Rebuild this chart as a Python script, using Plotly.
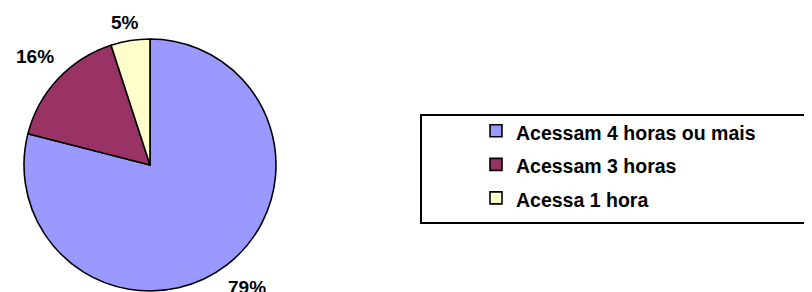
import math
import plotly.graph_objects as go

labels = ["Acessam 4 horas ou mais", "Acessam 3 horas", "Acessa 1 hora"]
values = [79, 16, 5]
colors = ["#9999FF", "#993366", "#FFFFCC"]

# the page body has an 8px margin, so the figure is sized to the remaining view
OFF = 8
W, H = 812 - OFF, 292 - OFF

def X(px):
    return (px - OFF) / W

def Y(py):
    return 1 - (py - OFF) / H

# pie domain in window pixels
px0, px1, py0, py1 = 24, 276, 39, 291
cx, cy = (px0 + px1) / 2, (py0 + py1) / 2
R = min(px1 - px0, py1 - py0) / 2

FONT = "Liberation Sans, Arial, sans-serif"

fig = go.Figure()
fig.add_trace(go.Pie(
    labels=[f'<b><span style="font-size:19.5px;font-weight:bold">{l}</span></b>' for l in labels],
    values=values,
    sort=False,
    direction="clockwise",
    rotation=0,
    textinfo="none",
    hoverinfo="label+percent",
    marker=dict(colors=colors, line=dict(color="black", width=1.6)),
    domain=dict(x=[X(px0), X(px1)], y=[Y(py1), Y(py0)]),
))

# percentage labels outside, at the slice mid-angles, kept inside the top edge
total = sum(values)
cum = 0
annotations = []
for v in values:
    mid = (cum + v / 2) / total * 2 * math.pi
    cum += v
    dx, dy = math.sin(mid), math.cos(mid)
    txt = f"{round(v / total * 100)}%"
    dist = R + 32
    lx = cx + dist * dx
    ly = max(cy - dist * dy, 22)
    ly = min(ly, 287)
    annotations.append(dict(
        x=X(lx), y=Y(ly), xref="paper", yref="paper",
        text=f"<b>{txt}</b>", showarrow=False,
        font=dict(family=FONT, size=19, color="black"),
        xanchor="center", yanchor="middle",
    ))

fig.update_layout(
    width=W, height=H,
    margin=dict(l=0, r=0, t=0, b=0),
    paper_bgcolor="white", plot_bgcolor="white",
    font=dict(family=FONT, color="black"),
    showlegend=True,
    legend=dict(
        x=X(476), y=Y(109), xanchor="left", yanchor="top",
        font=dict(family=FONT, size=23.5, color="black", weight="bold"),
        bgcolor="rgba(0,0,0,0)", borderwidth=0,
    ),
    annotations=annotations,
    shapes=[dict(
        type="rect", xref="paper", yref="paper",
        x0=X(421), x1=1.05, y0=Y(223), y1=Y(115),
        line=dict(color="black", width=2), fillcolor="rgba(0,0,0,0)",
        layer="below",
    )],
)

fig.write_html("out.html")
